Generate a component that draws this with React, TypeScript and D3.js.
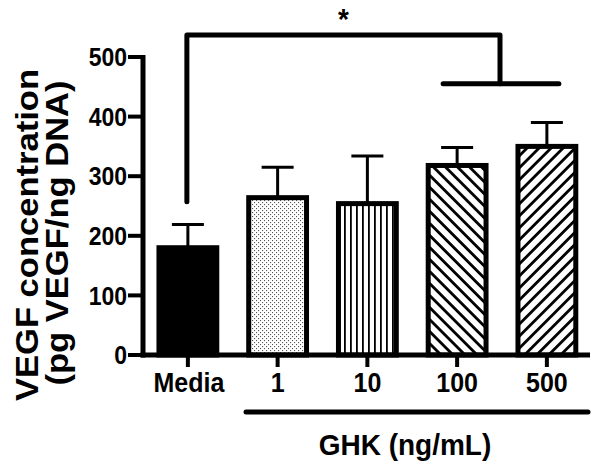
import React from "react";
import * as d3 from "d3";

const categories = ["Media", "1", "10", "100", "500"];
const means = [180, 264, 254, 318, 350];
const upperErrors = [219, 315, 334, 348, 390];
const yTicks = [0, 100, 200, 300, 400, 500];
const patterns = ["solid", "dots", "vlines", "backslash", "slash"];
const bracketTopValue = 537;
const subBracketValue = 455;
const bracketLeftBottomValue = 257;

const W = 600;
const H = 468;
const FONT = "'Liberation Sans', Arial, Helvetica, sans-serif";
const SY = 1.08;

export default function App() {
  const x = d3.scaleBand<string>().domain(categories).range([143, 591.75]).paddingInner(0.3).paddingOuter(0.15);
  const y = d3.scaleLinear().domain([0, 500]).range([355, 57]);
  const bw = x.bandwidth();
  const cx = (c: string) => (x(c) as number) + bw / 2;
  const sw = 5;

  const fillFor = (p: string) => (p === "solid" ? "#000" : `url(#pat-${p})`);

  const leftX = cx("Media");
  const c100 = cx("100");
  const c500 = cx("500");
  const midX = (c100 + c500) / 2 - 2;
  const topY = y(bracketTopValue);
  const subY = y(subBracketValue);

  return (
    <svg width={W} height={H} style={{ position: "absolute", left: 0, top: 0, background: "#fff" }}>
      <defs>
        <pattern id="pat-dots" width={4} height={4} patternUnits="userSpaceOnUse">
          <rect width={4} height={4} fill="#fff" />
          <rect x={0} y={0} width={1.1} height={1.1} fill="#555" />
          <rect x={2} y={2} width={1.1} height={1.1} fill="#555" />
        </pattern>
        <pattern id="pat-vlines" width={6} height={6} patternUnits="userSpaceOnUse">
          <rect width={6} height={6} fill="#fff" />
          <rect x={2} y={0} width={1.8} height={6} fill="#000" />
        </pattern>
        <pattern id="pat-backslash" width={8.5} height={8.5} patternUnits="userSpaceOnUse" patternTransform="rotate(-45)">
          <rect width={8.5} height={8.5} fill="#fff" />
          <rect x={0} y={0} width={2.8} height={8.5} fill="#000" />
        </pattern>
        <pattern id="pat-slash" width={8.5} height={8.5} patternUnits="userSpaceOnUse" patternTransform="rotate(45)">
          <rect width={8.5} height={8.5} fill="#fff" />
          <rect x={0} y={0} width={2.8} height={8.5} fill="#000" />
        </pattern>
      </defs>

      {/* error bars */}
      {categories.map((c, i) => (
        <g key={"e" + c} stroke="#000" strokeWidth={3}>
          <line x1={cx(c)} x2={cx(c)} y1={y(means[i])} y2={y(upperErrors[i])} />
          <line x1={cx(c) - 16} x2={cx(c) + 16} y1={y(upperErrors[i])} y2={y(upperErrors[i])} />
        </g>
      ))}

      {/* bars */}
      {categories.map((c, i) => (
        <rect
          key={"b" + c}
          x={(x(c) as number) + sw / 2}
          y={y(means[i]) }
          width={bw - sw}
          height={y(0) - y(means[i])}
          fill={fillFor(patterns[i])}
          stroke="#000"
          strokeWidth={sw}
        />
      ))}

      {/* y axis */}
      <line x1={143} x2={143} y1={y(500) - 2} y2={y(0) + 2.5} stroke="#000" strokeWidth={5} />
      {yTicks.map((t) => (
        <g key={"yt" + t}>
          <line x1={128} x2={143} y1={y(t)} y2={y(t)} stroke="#000" strokeWidth={4} />
          <g transform={`translate(127,${y(t)}) scale(1,1.12)`}>
            <text x={0} y={8.3} textAnchor="end" fontFamily={FONT} fontWeight="bold" fontSize={23} fill="#000">
              {t}
            </text>
          </g>
        </g>
      ))}

      {/* x axis */}
      <line x1={140.5} x2={590} y1={y(0)} y2={y(0)} stroke="#000" strokeWidth={5} />
      {categories.map((c) => (
        <g key={"xt" + c}>
          <line x1={cx(c)} x2={cx(c)} y1={y(0)} y2={y(0) + 12} stroke="#000" strokeWidth={4} />
          <g transform={`translate(${cx(c) + (c === "Media" ? 1 : 0)},392) scale(1,${SY})`}>
            <text x={0} y={0} textAnchor="middle" fontFamily={FONT} fontWeight="bold" fontSize={25} fill="#000">
              {c}
            </text>
          </g>
        </g>
      ))}

      {/* GHK group line and label */}
      <line x1={246} x2={588} y1={412} y2={412} stroke="#000" strokeWidth={5} strokeLinecap="round" />
      <g transform={`translate(405,455) scale(1,${SY})`}>
        <text x={0} y={0} textAnchor="middle" fontFamily={FONT} fontWeight="bold" fontSize={28} fill="#000">
          GHK (ng/mL)
        </text>
      </g>

      {/* y title */}
      <g transform={`translate(38,235) scale(1,${SY}) rotate(-90)`}>
        <text x={0} y={0} textAnchor="middle" fontFamily={FONT} fontWeight="bold" fontSize={32} fill="#000">
          VEGF concentration
        </text>
      </g>
      <g transform={`translate(68,233) scale(1,${SY}) rotate(-90)`}>
        <text x={0} y={0} textAnchor="middle" fontFamily={FONT} fontWeight="bold" fontSize={32} fill="#000">
          (pg VEGF/ng DNA)
        </text>
      </g>

      {/* significance bracket */}
      <path
        d={`M${leftX - 1},${y(bracketLeftBottomValue)} L${leftX - 1},${topY} L${midX},${topY} L${midX},${subY}`}
        fill="none"
        stroke="#000"
        strokeWidth={5}
        strokeLinejoin="round"
        strokeLinecap="round"
      />
      <line x1={c100 - 14} x2={c500 + 12} y1={subY} y2={subY} stroke="#000" strokeWidth={5} strokeLinecap="round" />
      <g transform={`translate(${(leftX - 1 + midX) / 2},29) scale(1,${SY})`}>
        <text x={0} y={0} textAnchor="middle" fontFamily={FONT} fontWeight="bold" fontSize={28} fill="#000">
          *
        </text>
      </g>
    </svg>
  );
}
